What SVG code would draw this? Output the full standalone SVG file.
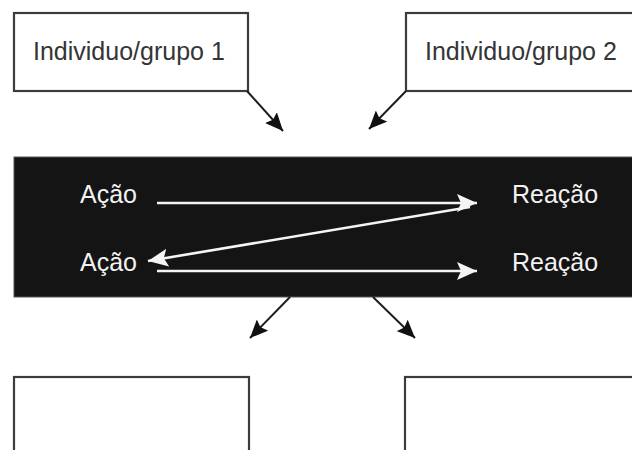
<svg xmlns="http://www.w3.org/2000/svg" width="632" height="450" viewBox="0 0 632 450">
  <style>
    .box { fill: #ffffff; stroke: #3c3c3c; stroke-width: 2.2; }
    .label { font-family: "Liberation Sans", Arial, sans-serif; font-size: 25px; fill: #353535; }
    .inner { font-family: "Liberation Sans", Arial, sans-serif; font-size: 25px; fill: #f2f2f2; }
    .dark { stroke: #1e1e1e; stroke-width: 2; fill: none; }
    .light { stroke: #f4f4f4; stroke-width: 2.6; fill: none; }
  </style>
  <defs>
    <marker id="headDark" markerUnits="userSpaceOnUse" markerWidth="20" markerHeight="16" refX="18" refY="8" orient="auto">
      <path d="M0,0 L18,8 L0,16 L3,8 z" fill="#111111"/>
    </marker>
    <marker id="headLight" markerUnits="userSpaceOnUse" markerWidth="22" markerHeight="18" refX="20" refY="9" orient="auto">
      <path d="M0,0 L20,9 L0,18 L4,9 z" fill="#f4f4f4"/>
    </marker>
  </defs>

  <rect width="632" height="450" fill="#ffffff"/>

  <g id="grupo1">
    <rect class="box" x="14" y="13" width="234" height="78"/>
    <text class="label" x="33" y="60">Individuo/grupo 1</text>
  </g>

  <g id="grupo2">
    <rect class="box" x="406" y="13" width="240" height="78"/>
    <text class="label" x="425" y="60">Individuo/grupo 2</text>
  </g>

  <g id="interacao">
    <rect x="14" y="157" width="630" height="140" fill="#141414" stroke="#555555" stroke-width="1"/>
    <text class="inner" x="80" y="203">Ação</text>
    <text class="inner" x="80" y="271">Ação</text>
    <text class="inner" x="512" y="203">Reação</text>
    <text class="inner" x="512" y="271">Reação</text>
  </g>

  <g id="resultado1">
    <rect class="box" x="14" y="377" width="235" height="90"/>
  </g>

  <g id="resultado2">
    <rect class="box" x="405" y="377" width="240" height="90"/>
  </g>

  <g id="connectors">
    <line class="dark" x1="247" y1="91" x2="283" y2="131" marker-end="url(#headDark)"/>
    <line class="dark" x1="406" y1="91" x2="369" y2="129" marker-end="url(#headDark)"/>
    <line class="dark" x1="290" y1="297" x2="250" y2="338" marker-end="url(#headDark)"/>
    <line class="dark" x1="373" y1="297" x2="415" y2="338" marker-end="url(#headDark)"/>
    <line class="light" x1="157" y1="203" x2="477" y2="203" marker-end="url(#headLight)"/>
    <line class="light" x1="470" y1="207" x2="148" y2="261" marker-end="url(#headLight)"/>
    <line class="light" x1="157" y1="271" x2="477" y2="271" marker-end="url(#headLight)"/>
  </g>
</svg>
